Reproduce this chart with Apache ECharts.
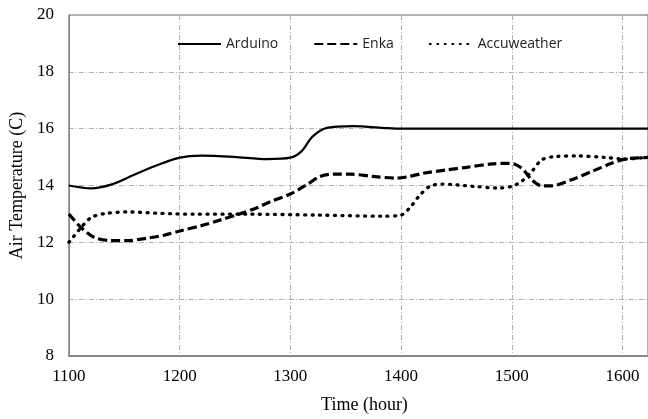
<!DOCTYPE html>
<html>
<head>
<meta charset="utf-8">
<script src="https://cdn.jsdelivr.net/npm/echarts@6/dist/echarts.min.js"></script>
<style>
	html,body{margin:0; padding:0; background:#fff;}
	#chart{width:648px; height:419px;}
</style>
</head>
<body>
<div id="chart"></div>
<script>
	// Arduino 读数 (时间 / 温度)
	var arduinoTime = [1100, 1120, 1138, 1159, 1180, 1200, 1219, 1249, 1279, 1300, 1310, 1320, 1333, 1357, 1387, 1400, 1500, 1600, 1630];
	var arduinoTemp = [14, 13.9, 14.03, 14.38, 14.72, 14.98, 15.05, 15.01, 14.93, 14.98, 15.2, 15.72, 16.03, 16.09, 16.02, 16, 16, 16, 16];
	// Enka 读数
	var enkaTime = [1100, 1111, 1123, 1138, 1153, 1171, 1186, 1201, 1219, 1237, 1255, 1270, 1282, 1300, 1315, 1327, 1339, 1354, 1374, 1396, 1405, 1420, 1441, 1459, 1482, 1499, 1509, 1518, 1527, 1536, 1554, 1572, 1590, 1602, 1620, 1630];
	var enkaTemp = [13, 12.52, 12.17, 12.06, 12.06, 12.15, 12.25, 12.41, 12.58, 12.79, 13.01, 13.22, 13.43, 13.7, 14.03, 14.32, 14.4, 14.4, 14.32, 14.26, 14.3, 14.43, 14.55, 14.64, 14.76, 14.78, 14.61, 14.2, 13.99, 13.99, 14.2, 14.49, 14.78, 14.93, 14.98, 15];
	// Accuweather 读数
	var accuTime = [1100, 1111, 1120, 1132, 1153, 1183, 1213, 1264, 1324, 1384, 1400, 1408, 1417, 1426, 1437, 1465, 1488, 1500, 1509, 1518, 1527, 1539, 1560, 1584, 1602, 1620, 1630];
	var accuTemp = [12, 12.52, 12.87, 13.01, 13.07, 13.02, 12.99, 12.99, 12.96, 12.92, 12.96, 13.22, 13.66, 13.97, 14.05, 13.97, 13.91, 13.97, 14.15, 14.49, 14.9, 15.02, 15.04, 14.99, 14.93, 14.98, 15];
	var seriesNames = ['Arduino', 'Enka', 'Accuweather'];

	function pairs(ts, vals){
		return ts.map(function(t, i){ return [t, vals[i]]; });
	}

	var myChart = echarts.init(document.getElementById('chart'));
	var gridLine = {color: '#b0b0b0', width: 1, type: [5, 2, 1, 2]};
	var serif = 'Liberation Serif';
	var option = {
		backgroundColor: '#ffffff',
		animation: false,
		grid: {left: 68, top: 15, right: -1, bottom: 59, show: true, borderColor: '#666', borderWidth: 1},
		legend: {
			left: 177,
			top: 37,
			padding: 0,
			itemWidth: 43,
			itemHeight: 14,
			itemGap: 35,
			itemStyle: {opacity: 0},
			textStyle: {fontFamily: 'Open Sans', fontSize: 14, color: '#222'},
			data: seriesNames
		},
		xAxis: {
			type: 'value',
			min: 1100,
			max: 1623,
			interval: 100,
			name: 'Time (hour)',
			nameLocation: 'middle',
			nameGap: 40,
			nameTextStyle: {fontFamily: serif, fontSize: 18, color: '#000', padding: [0, 0, 0, 12]},
			axisLine: {show: true, lineStyle: {color: '#888', width: 2}},
			axisTick: {show: false},
			axisLabel: {fontFamily: serif, fontSize: 17, color: '#000', margin: 12, showMaxLabel: false,
				formatter: function(v){ return String(v); }},
			splitLine: {show: true, lineStyle: gridLine}
		},
		yAxis: {
			type: 'value',
			min: 8,
			max: 20,
			interval: 2,
			name: 'Air Temperature (C)',
			nameLocation: 'middle',
			nameGap: 37,
			nameTextStyle: {fontFamily: serif, fontSize: 18, color: '#000'},
			axisLine: {show: true, lineStyle: {color: '#888', width: 1}},
			axisTick: {show: false},
			axisLabel: {fontFamily: serif, fontSize: 17, color: '#000', margin: 15},
			splitLine: {show: true, lineStyle: gridLine}
		},
		series: [
			{
				name: seriesNames[0],
				type: 'line',
				smooth: 0.3,
				symbol: 'none',
				data: pairs(arduinoTime, arduinoTemp),
				lineStyle: {color: '#000', width: 2.2, type: 'solid'},
				itemStyle: {color: '#000'}
			},
			{
				name: seriesNames[1],
				type: 'line',
				smooth: 0.3,
				symbol: 'none',
				data: pairs(enkaTime, enkaTemp),
				lineStyle: {color: '#000', width: 3.2, type: [9, 4]},
				itemStyle: {color: '#000'}
			},
			{
				name: seriesNames[2],
				type: 'line',
				smooth: 0.3,
				symbol: 'none',
				data: pairs(accuTime, accuTemp),
				lineStyle: {color: '#000', width: 3.3, type: [1, 6.5], cap: 'round'},
				itemStyle: {color: '#000'}
			}
		]
	};
	myChart.setOption(option);
</script>
</body>
</html>
